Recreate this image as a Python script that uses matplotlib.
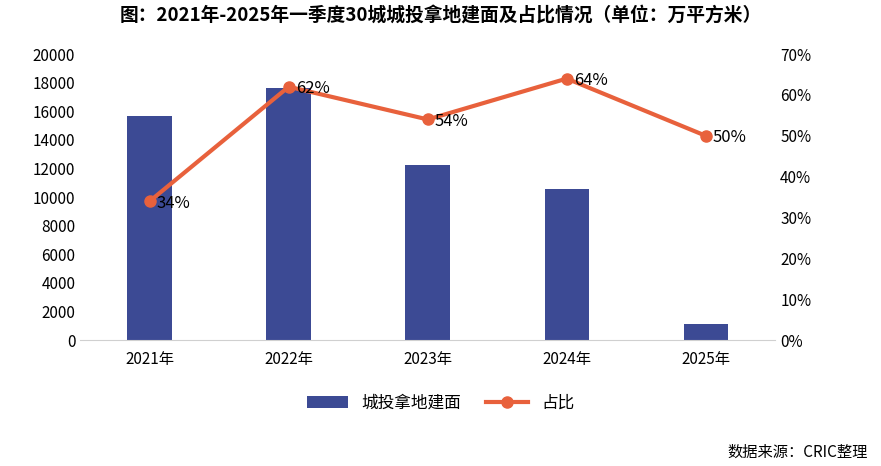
import matplotlib.pyplot as plt
from matplotlib.ticker import PercentFormatter

plt.rcParams['font.family'] = ['Noto Sans CJK SC', 'DejaVu Sans']

years = ['2021年', '2022年', '2023年', '2024年', '2025年']
area = [15650, 17650, 12250, 10600, 1100]
share = [34, 62, 54, 64, 50]

fig = plt.figure(figsize=(8.81, 4.66), dpi=100)
ax = fig.add_axes([0.091, 0.27, 0.789, 0.614])
x = range(len(years))
ax.bar(x, area, width=0.32, color='#3C4A94', label='城投拿地建面', zorder=2)
ax.set_ylim(0, 20000)
ax.set_yticks(range(0, 20001, 2000))
ax.set_xlim(-0.5, 4.5)
ax.set_xticks(list(x))
ax.set_xticklabels(years, fontsize=11)
ax.tick_params(axis='y', labelsize=11, length=0)
ax.tick_params(axis='x', length=0, pad=8)
for s in ['top', 'right', 'left']:
    ax.spines[s].set_visible(False)
ax.spines['bottom'].set_color('#d0d0d0')

ax2 = ax.twinx()
ax2.plot(x, share, color='#E8613C', lw=3, marker='o', ms=8, label='占比', zorder=3)
ax2.set_ylim(0, 70)
ax2.set_yticks(range(0, 71, 10))
ax2.yaxis.set_major_formatter(PercentFormatter(decimals=0))
ax2.tick_params(axis='y', labelsize=11, length=0)
for s in ['top', 'right', 'left', 'bottom']:
    ax2.spines[s].set_visible(False)
for i, v in enumerate(share):
    ax2.text(i + 0.05, v - 0.5, f'{v}%', fontsize=12, va='center', ha='left')

h1, l1 = ax.get_legend_handles_labels()
h2, l2 = ax2.get_legend_handles_labels()
fig.legend(h1 + h2, l1 + l2, loc='center', bbox_to_anchor=(0.5, 0.135), ncol=2,
           frameon=False, fontsize=12, handlelength=2.5, columnspacing=1.5)

fig.text(0.5, 0.965, '图：2021年-2025年一季度30城城投拿地建面及占比情况（单位：万平方米）',
         ha='center', va='center', fontsize=13.5, fontweight='bold')
fig.text(0.985, 0.03, '数据来源：CRIC整理', ha='right', va='center', fontsize=11)

fig.savefig('out.png', dpi=100)
